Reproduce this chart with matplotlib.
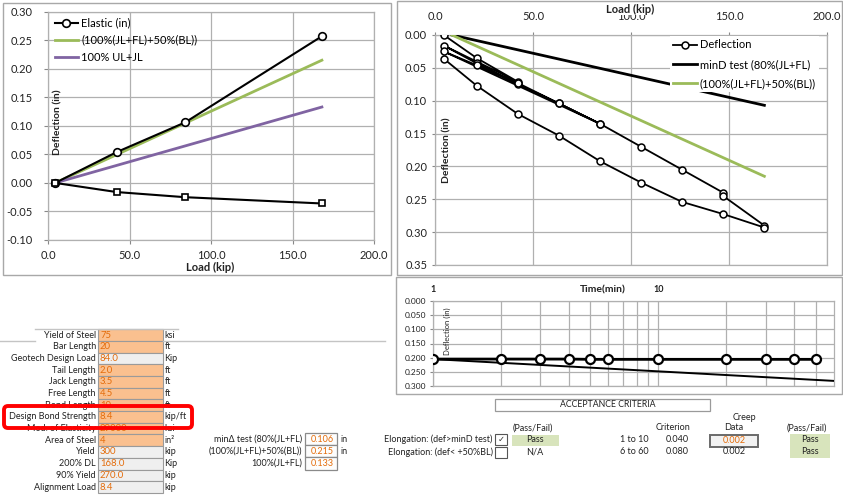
import matplotlib
matplotlib.use('Agg')
import matplotlib.pyplot as plt
from matplotlib.patches import Rectangle, FancyBboxPatch
from matplotlib.ticker import FixedLocator, FuncFormatter, NullFormatter

plt.rcParams['font.family'] = ['Lato', 'DejaVu Sans']

W, H = 843, 503

# ---------------- data ----------------
# chart 1 : elastic / residual movement vs load
c1_load = [4.2, 42, 84, 168]
c1_elastic = [0.0, 0.054, 0.106, 0.257]
c1_residual = [0.0, -0.016, -0.025, -0.036]
c1_ref_load = [4.2, 168]
c1_green = [0.0, 0.215]
c1_purple = [0.0, 0.133]
c1_labels = ['Elastic (in)', '(100%(JL+FL)+50%(BL))', '100% UL+JL']

# chart 2 : load - deflection cycles
c2_load = [4.2, 21, 42, 4.2, 21, 42, 63, 84, 4.2, 21, 42, 63, 84, 105, 126,
           147, 147, 168, 168, 147, 126, 105, 84, 63, 42, 21, 4.2]
c2_defl = [0.000, 0.035, 0.071, 0.016, 0.043, 0.075, 0.104, 0.135, 0.025,
           0.046, 0.073, 0.104, 0.135, 0.170, 0.205, 0.240, 0.245, 0.290,
           0.293, 0.2725, 0.254, 0.2245, 0.192, 0.153, 0.120, 0.077, 0.036]
c2_ref_load = [8.4, 168]
c2_mind = [0.0, 0.107]
c2_green = [0.0, 0.215]
c2_labels = ['Deflection', 'minD test (80%(JL+FL)', '(100%(JL+FL)+50%(BL))']

# chart 3 : creep
c3_time = [1, 2, 3, 4, 5, 6, 10, 20, 30, 40, 50]
c3_defl = [0.205, 0.205, 0.205, 0.205, 0.206, 0.206, 0.206, 0.206, 0.206, 0.206, 0.206]
c3_crit_time = [1, 60]
c3_crit = [0.205, 0.282]

# input table
row_labels = ['Yield of Steel', 'Bar Length', 'Geotech Design Load', 'Tail Length',
              'Jack Length', 'Free Length', 'Bond Length', 'Design Bond Strength',
              'Mod. of Elasticity', 'Area of Steel', 'Yield', '200% DL', '90% Yield',
              'Alignment Load']
row_values = ['75', '20', '84.0', '2.0', '3.5', '4.5', '10', '8.4', '29000', '4',
              '300', '168.0', '270.0', '8.4']
row_units = ['ksi', 'ft', 'Kip', 'ft', 'ft', 'ft', 'ft', 'kip/ft', 'ksi', 'in²',
             'kip', 'Kip', 'kip', 'kip']
row_input = [True, True, False, True, True, True, True, True, True, True,
             False, False, False, False]

mid_labels = ['minΔ test (80%(JL+FL)', '(100%(JL+FL)+50%(BL))', '100%(JL+FL)']
mid_values = ['0.106', '0.215', '0.133']
mid_units = ['in', 'in', '']

GRID = '#b0b0b0'
FRAME = '#a8a8a8'
ORANGE_TXT = '#E46C0A'
GREEN = '#9BBB59'
PURPLE = '#8064A2'

fig = plt.figure(figsize=(W / 100, H / 100), dpi=100)
fig.patch.set_facecolor('white')


def add_ax(x0, y0, x1, y1):
    return fig.add_axes([x0 / W, 1 - y1 / H, (x1 - x0) / W, (y1 - y0) / H])


def style(ax, size=8):
    ax.grid(True, color=GRID, lw=0.9)
    ax.set_axisbelow(True)
    for s in ax.spines.values():
        s.set_color(GRID)
        s.set_linewidth(0.9)
    ax.tick_params(colors='#222222', labelsize=size, length=3, width=0.8)
    ax.tick_params(axis='both', color='#888888')


# ---------------- chart 1 ----------------
ax1 = add_ax(48.3, 11.7, 374, 240)
style(ax1)
ax1.set_xlim(0, 200)
ax1.set_ylim(-0.10, 0.30)
ax1.set_xticks([0, 50, 100, 150, 200])
ax1.set_yticks([-0.10, -0.05, 0.0, 0.05, 0.10, 0.15, 0.20, 0.25, 0.30])
ax1.xaxis.set_major_formatter(FuncFormatter(lambda v, p: f'{v:.1f}'))
ax1.yaxis.set_major_formatter(FuncFormatter(lambda v, p: f'{v:.2f}'))
ax1.tick_params(axis='y', pad=8)
ax1.tick_params(axis='x', pad=4)
ax1.plot(c1_load, c1_elastic, '-o', color='black', lw=1.5, ms=5.5, mfc='white',
         mew=1.2, label=c1_labels[0], zorder=4)
ax1.plot(c1_ref_load, c1_green, color=GREEN, lw=2, label=c1_labels[1], zorder=3)
ax1.plot(c1_ref_load, c1_purple, color=PURPLE, lw=2, label=c1_labels[2], zorder=3)
ax1.plot(c1_load, c1_residual, '-s', color='black', lw=1.5, ms=5, mfc='white',
         mew=1.2, zorder=4)
ax1.legend(loc='upper left', bbox_to_anchor=(0.02, 0.975), frameon=False,
           fontsize=8, handlelength=2.1, handletextpad=0.3, labelspacing=0.55,
           borderaxespad=0, borderpad=0)

# ---------------- chart 2 ----------------
ax2 = add_ax(435.5, 35, 827, 265)
style(ax2)
ax2.set_xlim(0, 200)
ax2.set_ylim(0.35, 0.0)
ax2.xaxis.tick_top()
ax2.set_xticks([0, 50, 100, 150, 200])
ax2.set_yticks([0, 0.05, 0.10, 0.15, 0.20, 0.25, 0.30, 0.35])
ax2.xaxis.set_major_formatter(FuncFormatter(lambda v, p: f'{v:.1f}'))
ax2.yaxis.set_major_formatter(FuncFormatter(lambda v, p: f'{v:.2f}'))
ax2.tick_params(axis='x', pad=7, length=2)
ax2.tick_params(axis='y', pad=4, length=2)
ax2.plot(c2_load, c2_defl, '-o', color='black', lw=1.3, ms=5, mfc='white',
         mew=1.1, label=c2_labels[0], zorder=4)
ax2.plot(c2_ref_load, c2_mind, color='black', lw=2, label=c2_labels[1], zorder=3)
ax2.plot(c2_ref_load, c2_green, color=GREEN, lw=2, label=c2_labels[2], zorder=3)
leg2 = ax2.legend(loc='upper left', bbox_to_anchor=((670 - 435.5) / 391.5, 0.995),
                  frameon=True, fontsize=8, handlelength=2.1, handletextpad=0.3,
                  labelspacing=0.75, borderaxespad=0, borderpad=0.3, fancybox=False)
leg2.get_frame().set_edgecolor('none')
leg2.get_frame().set_facecolor('white')
leg2.get_frame().set_alpha(1)

# ---------------- chart 3 ----------------
ax3 = add_ax(432.7, 301, 834, 386)
style(ax3, size=6)
ax3.set_xscale('log')
ax3.set_xlim(1, 60)
ax3.set_ylim(0.30, 0.0)
ax3.xaxis.tick_top()
ax3.xaxis.set_major_locator(FixedLocator([1, 10]))
ax3.xaxis.set_minor_locator(FixedLocator([2, 3, 4, 5, 6, 7, 8, 9, 20, 30, 40, 50]))
ax3.xaxis.set_major_formatter(FuncFormatter(lambda v, p: f'{v:.0f}'))
ax3.xaxis.set_minor_formatter(NullFormatter())
ax3.grid(True, which='minor', axis='x', color=GRID, lw=0.9)
ax3.set_yticks([0, 0.05, 0.10, 0.15, 0.20, 0.25, 0.30])
ax3.yaxis.set_major_formatter(FuncFormatter(lambda v, p: f'{v:.3f}'))
ax3.tick_params(axis='x', which='both', length=0, pad=5, labelsize=6.5)
for t in ax3.get_xticklabels():
    t.set_fontweight('bold')
ax3.tick_params(axis='y', pad=3, length=2)
ax3.plot(c3_crit_time, c3_crit, color='black', lw=1.4, zorder=3)
ax3.plot(c3_time, c3_defl, '-o', color='black', lw=2, ms=6.5, mfc='white',
         mew=1.6, zorder=4)

# ---------------- overlay (pixel coordinates) ----------------
ov = fig.add_axes([0, 0, 1, 1], zorder=10)
ov.set_xlim(0, W)
ov.set_ylim(H, 0)
ov.axis('off')


def T(x, y, s, ha='left', size=6.5, color='#222222', weight='normal', **kw):
    ov.text(x, y, s, ha=ha, va='center', fontsize=size, color=color,
            fontweight=weight, **kw)


def R(x0, y0, x1, y1, fc='none', ec=FRAME, lw=1.0, z=1):
    ov.add_patch(Rectangle((x0, y0), x1 - x0, y1 - y0, facecolor=fc,
                           edgecolor=ec, lw=lw, zorder=z))


# chart frames
R(3, 3, 391, 275)
R(397, 1, 842, 275)
R(396, 277, 842, 394)

# axis titles
T(210, 267, 'Load (kip)', ha='center', size=8, weight='bold')
T(58, 122, 'Deflection (in)', ha='center', size=7.5, weight='bold', rotation=90)
T(630, 9, 'Load (kip)', ha='center', size=8, weight='bold',
  bbox=dict(facecolor='white', edgecolor='none', pad=0.5))
T(447, 150, 'Deflection (in)', ha='center', size=7.5, weight='bold', rotation=90)
T(603, 290, 'Time(min)', ha='center', size=7.5, weight='bold')
T(447, 331, 'Deflection (in)', ha='center', size=5.5, rotation=90)

# spreadsheet grid lines
ov.plot([0, 35], [341, 341], color='#c4c4c4', lw=1)
ov.plot([163, 385], [341, 341], color='#c4c4c4', lw=1)
ov.plot([35, 178], [329, 329], color='#c4c4c4', lw=1)

# input table
y0, dy = 335.0, 11.7
for i, (lab, val, unit, inp) in enumerate(zip(row_labels, row_values, row_units, row_input)):
    yc = y0 + i * dy
    T(96, yc, lab, ha='right', size=6.5)
    R(97.5, yc - dy / 2, 162.5, yc + dy / 2, fc='#FAC08F' if inp else '#EFEFEF',
      ec='#9a9a9a', lw=0.8)
    T(100, yc, val, size=6.8, color=ORANGE_TXT)
    T(164.5, yc, unit, size=6.5)

# red highlight
ov.add_patch(FancyBboxPatch((4, 406), 188, 22, boxstyle='round,pad=0,rounding_size=4',
                            facecolor='none', edgecolor='#FF0000', lw=2.8, zorder=5))

# middle block
for i, (lab, val, unit) in enumerate(zip(mid_labels, mid_values, mid_units)):
    yc = 439 + i * 12.2
    T(302, yc, lab, ha='right', size=6.5)
    R(304.5, yc - 6.1, 337, yc + 6.1, fc='#FDFDFD', ec='#8a8a8a', lw=0.9)
    T(334, yc, val, ha='right', size=6.5, color=ORANGE_TXT)
    if unit:
        T(340, yc, unit, size=6.5)

# acceptance criteria box
R(495, 398.5, 710, 410.5, ec='#9a9a9a', lw=0.9)
T(608, 404.5, 'ACCEPTANCE CRITERIA', ha='center', size=6.3)

# elongation checks
T(492.5, 439, 'Elongation: (def>minD test)', ha='right', size=6.5)
T(492.5, 452, 'Elongation: (def< +50%BL)', ha='right', size=6.5)
R(495, 433.5, 507, 445, ec='#555555', lw=0.8)
R(495, 446.5, 507, 458, ec='#555555', lw=0.8)
ov.text(501, 439.5, '✓', ha='center', va='center', fontsize=6, color='#333333',
        family='DejaVu Sans')
T(533, 428, '(Pass/Fail)', ha='center', size=6.5)
R(511.5, 434.5, 559, 446, fc='#D8E4BC', ec='none', lw=0)
T(535, 440, 'Pass', ha='center', size=6.5)
T(535, 452, 'N/A', ha='center', size=6.5)

# creep criteria
T(673, 428, 'Criterion', ha='center', size=6.5)
T(634, 440, '1 to 10', ha='center', size=6.5)
T(677, 440, '0.040', ha='center', size=6.5)
T(634, 452, '6 to 60', ha='center', size=6.5)
T(677, 452, '0.080', ha='center', size=6.5)
T(744, 417, 'Creep', ha='center', size=6.5)
T(734, 428, 'Data', ha='center', size=6.5)
R(710, 434.5, 758, 446.5, fc='#F2F2F2', ec='#6a6a6a', lw=1.4)
T(734, 440.5, '0.002', ha='center', size=6.5, color=ORANGE_TXT)
T(734, 452, '0.002', ha='center', size=6.5)
T(807, 428, '(Pass/Fail)', ha='center', size=6.5)
R(790, 434, 830, 458, fc='#D8E4BC', ec='none', lw=0)
T(810, 440, 'Pass', ha='center', size=6.5)
T(810, 452, 'Pass', ha='center', size=6.5)

fig.savefig('out.png', dpi=100)
